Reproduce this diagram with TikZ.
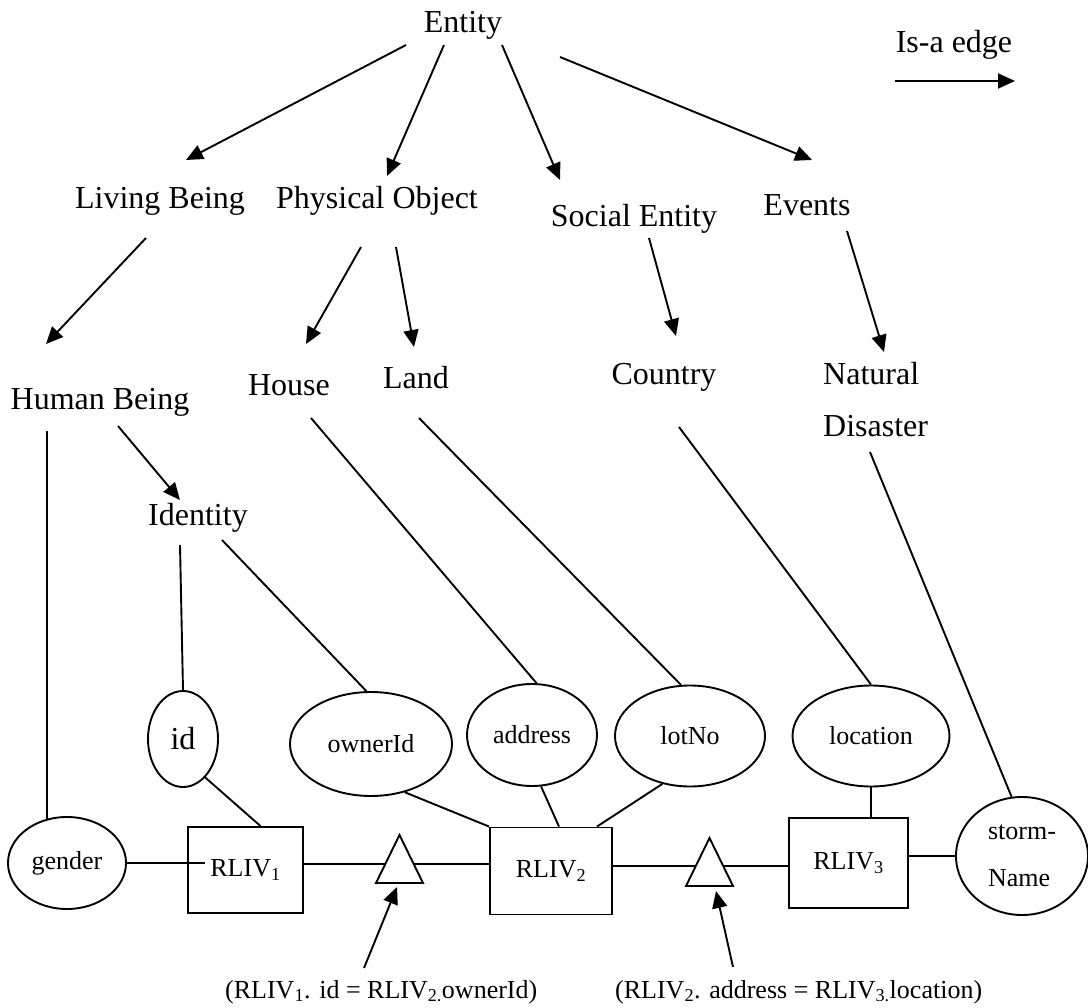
\documentclass[tikz,border=0pt]{standalone}
\usepackage{fontspec}
\setmainfont{Liberation Serif}
\usetikzlibrary{arrows.meta,shapes.geometric}

\begin{document}
\begin{tikzpicture}[x=1pt,y=-1pt,
  big/.style={font=\fontsize{32}{38}\selectfont, inner sep=0pt},
  small/.style={font=\fontsize{26}{31}\selectfont, inner sep=0pt},
  isa/.style={line width=1.9pt, -{Triangle[length=17pt,width=15pt]}},
  link/.style={line width=1.9pt},
  attr/.style={ellipse, draw, line width=1.9pt, inner sep=0pt, align=left,
               font=\fontsize{26}{47}\selectfont},
  relbox/.style={rectangle, draw, line width=1.9pt, inner sep=0pt,
                 font=\fontsize{26}{31}\selectfont},
]
\useasboundingbox (0,0) rectangle (1088,1008);

% ---------- concept hierarchy ----------
\node[big, anchor=base] (entity)   at (463,33)  {Entity};
\node[big, anchor=base] (isa)      at (954,53)  {Is-a edge};
\node[big, anchor=base] (living)   at (160,209) {Living Being};
\node[big, anchor=base] (physical) at (377,209) {Physical Object};
\node[big, anchor=base] (social)   at (634,227) {Social Entity};
\node[big, anchor=base] (events)   at (807,216) {Events};
\node[big, anchor=base] (human)    at (100,410) {Human Being};
\node[big, anchor=base] (house)    at (289,396) {House};
\node[big, anchor=base] (land)     at (416,389) {Land};
\node[big, anchor=base] (country)  at (664,385) {Country};
\node[big, anchor=base west] (natural)  at (823,385) {Natural};
\node[big, anchor=base west] (disaster) at (823,437) {Disaster};
\node[big, anchor=base] (identity) at (198,525) {Identity};

% legend arrow
\draw[isa] ([shift={(-59,28)}]isa.base) -- ([shift={(61,28)}]isa.base);

% is-a edges
\draw[isa] ([shift={(-57,12)}]entity.base) -- ([shift={(26,-49)}]living.base);
\draw[isa] ([shift={(-19,12)}]entity.base) -- ([shift={(10,-33)}]physical.base);
\draw[isa] ([shift={(39,12)}]entity.base)  -- ([shift={(-74,-47)}]social.base);
\draw[isa] ([shift={(97,24)}]entity.base)  -- ([shift={(5,-56)}]events.base);
\draw[isa] ([shift={(-14,29)}]living.base) -- ([shift={(-54,-66)}]human.base);
\draw[isa] ([shift={(-16,38)}]physical.base) -- ([shift={(17,-52)}]house.base);
\draw[isa] ([shift={(19,38)}]physical.base)  -- ([shift={(-2,-42)}]land.base);
\draw[isa] ([shift={(15,11)}]social.base)  -- ([shift={(12,-49)}]country.base);
\draw[isa] ([shift={(40,15)}]events.base)  -- ([shift={(61,-33)}]natural.base west);
\draw[isa] ([shift={(18,16)}]human.base)   -- ([shift={(-18,-25)}]identity.base);

% ---------- attributes ----------
\node[attr, minimum width=70pt,  minimum height=96pt, font=\fontsize{32}{38}\selectfont] (id) at (183,739) {id};
\node[attr, minimum width=162pt, minimum height=104pt] (ownerid)  at (371,744) {ownerId};
\node[attr, minimum width=130pt, minimum height=102pt] (address)  at (532,735) {address};
\node[attr, minimum width=150pt, minimum height=101pt] (lotno)    at (690,736) {lotNo};
\node[attr, minimum width=157pt, minimum height=101pt] (location) at (871,736) {location};
\node[attr, minimum width=118pt, minimum height=92pt]  (gender)   at (67,863)  {gender};
\node[attr, minimum width=132pt, minimum height=118pt] (storm)    at (1022,856) {storm-\\Name};

% ---------- relations ----------
\node[relbox, minimum width=115pt, minimum height=86pt] (rliv1) at (245.5,870) {RLIV\textsubscript{1}};
\node[relbox, minimum width=122pt, minimum height=87pt] (rliv2) at (551,871)   {RLIV\textsubscript{2}};
\node[relbox, minimum width=119pt, minimum height=90pt] (rliv3) at (848.5,863) {RLIV\textsubscript{3}};

% join conditions
\node[small, anchor=base west] (join1) at (225,998)
  {(RLIV\textsubscript{1}. id = RLIV\textsubscript{2.}ownerId)};
\node[small, anchor=base west] (join2) at (615,998)
  {(RLIV\textsubscript{2}. address = RLIV\textsubscript{3.}location)};

\coordinate (t1) at (399.5,864);
\coordinate (t2) at (709.5,866);

% concept-to-attribute links
\draw[link] ([shift={(-53,21)}]human.base) -- ([shift={(-20,3)}]gender.north);
\draw[link] ([shift={(-18,20)}]identity.base) -- (id.north);
\draw[link] ([shift={(24,15)}]identity.base) -- (ownerid.95);
\draw[link] ([shift={(22,22)}]house.base) -- (address.85);
\draw[link] ([shift={(3,29)}]land.base) -- (lotno.100);
\draw[link] ([shift={(15,42)}]country.base) -- (location.north);
\draw[link] ([shift={(47,15)}]disaster.base west) -- (storm.100);

% attribute-to-relation links
\draw[link] (id.300) -- ([shift={(15,0)}]rliv1.north);
\draw[link] (ownerid.305) -- (rliv2.north west);
\draw[link] (address.280) -- ([shift={(8,0)}]rliv2.north);
\draw[link] (lotno.240) -- ([shift={(46,0)}]rliv2.north);
\draw[link] (location.south) -- (location.south |- rliv3.north);
\draw[link] (gender.east) -- (gender.east -| rliv1.west) -- ++(18,0);
\draw[link] (storm.west) -- (storm.west -| rliv3.east);

% relation chain through the join triangles
\draw[link] (rliv1.east |- t1) -- (t1) -- (rliv2.west |- t1);
\draw[link] (rliv2.east |- t2) -- (t2) -- (rliv3.west |- t2);
\filldraw[link, fill=white] ([shift={(0,-29)}]t1) -- ([shift={(23.5,19)}]t1) -- ([shift={(-23.5,19)}]t1) -- cycle;
\filldraw[link, fill=white] ([shift={(0,-28)}]t2) -- ([shift={(23.5,20)}]t2) -- ([shift={(-23.5,20)}]t2) -- cycle;

\draw[isa] ([shift={(139,-30)}]join1.base west) -- ([shift={(-2.5,23)}]t1);
\draw[isa] ([shift={(118,-31)}]join2.base west) -- ([shift={(6.5,25)}]t2);

\end{tikzpicture}
\end{document}
